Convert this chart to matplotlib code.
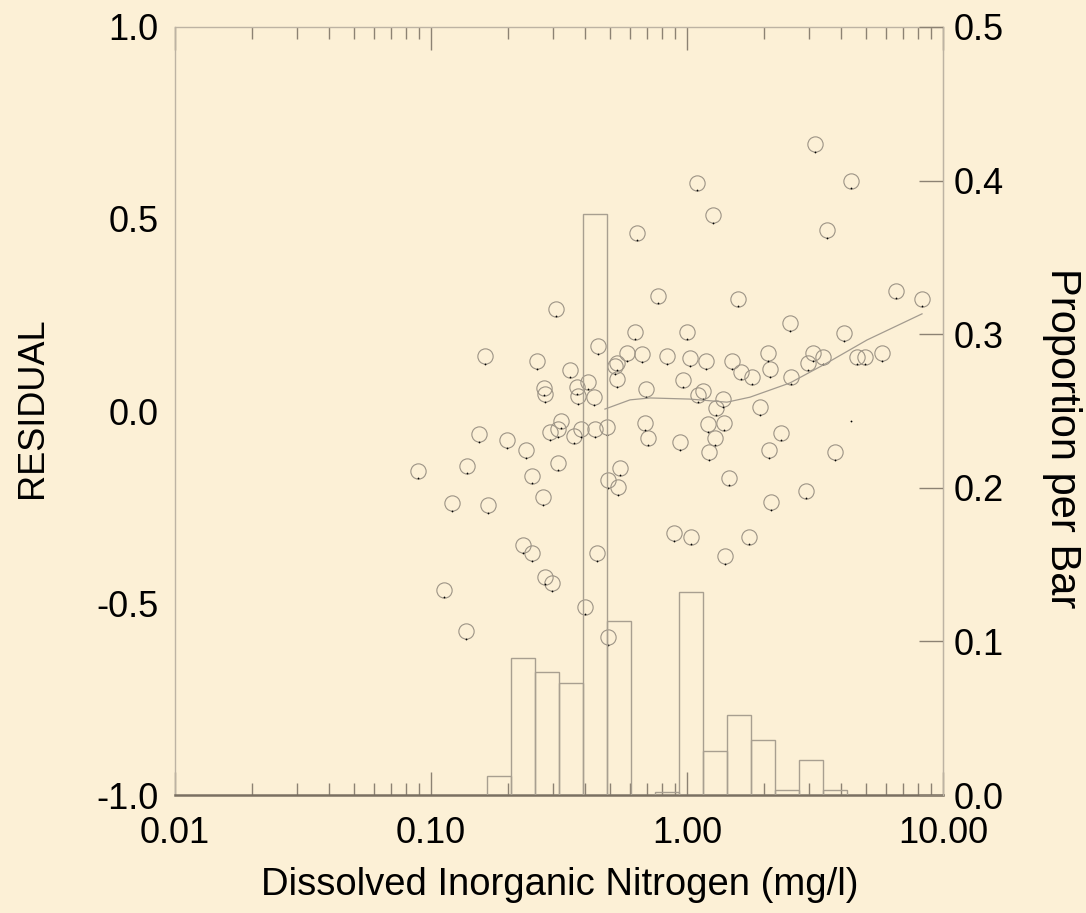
import matplotlib
matplotlib.use('Agg')
import matplotlib.pyplot as plt
import numpy as np
import matplotlib.transforms as mtransforms
from matplotlib.ticker import FixedLocator, FormatStrFormatter, NullFormatter, LogLocator

plt.rcParams['font.family'] = ['Liberation Sans', 'DejaVu Sans']

# scatter: dissolved inorganic nitrogen (mg/l) vs residual
din = [0.0889, 0.1124, 0.1208, 0.1370, 0.1382, 0.154, 0.1625, 0.167, 0.198, 0.2287,
       0.235, 0.248, 0.248, 0.2597, 0.274, 0.2788, 0.297, 0.2763, 0.2788, 0.2916,
       0.3078, 0.3134, 0.3134, 0.322, 0.349, 0.362, 0.3716, 0.375, 0.3855, 0.3996,
       0.4106, 0.4333, 0.437, 0.445, 0.449, 0.487, 0.491, 0.491, 0.5375, 0.547,
       0.523, 0.533, 0.533, 0.583, 0.626, 0.638, 0.667, 0.685, 0.6915, 0.704,
       0.770, 0.835, 0.890, 0.939, 0.9647, 1.0, 1.027, 1.0366, 1.094, 1.104,
       1.155, 1.186, 1.208, 1.219, 1.2636, 1.2866, 1.298, 1.382, 1.395, 1.407,
       1.459, 1.499, 1.582, 1.625, 1.747, 1.794, 1.928, 2.072, 2.091, 2.110,
       2.129, 2.329, 2.525, 2.548, 2.916, 2.969, 3.106, 3.162, 3.399, 3.524,
       3.785, 4.106, 4.372, 4.615, 4.959, 5.777, 6.553, 8.279]
resid = [-0.156, -0.466, -0.240, -0.573, -0.143, -0.060, 0.143, -0.245, -0.076, -0.349,
         -0.102, -0.370, -0.169, 0.130, -0.224, -0.432, -0.448, 0.060, 0.044, -0.055,
         0.266, -0.135, -0.047, -0.026, 0.107, -0.065, 0.063, 0.039, -0.047, -0.510,
         0.076, 0.036, -0.047, -0.370, 0.169, -0.042, -0.589, -0.180, -0.198, -0.148,
         0.117, 0.125, 0.083, 0.151, 0.206, 0.464, 0.148, -0.031, 0.057, -0.070,
         0.300, 0.143, -0.318, -0.081, 0.081, 0.206, 0.138, -0.328, 0.594, 0.042,
         0.052, 0.130, -0.034, -0.107, 0.510, -0.070, 0.008, 0.031, -0.031, -0.378,
         -0.174, 0.130, 0.292, 0.102, -0.328, 0.089, 0.010, 0.151, -0.102, 0.109,
         -0.237, -0.057, 0.229, 0.089, -0.208, 0.125, 0.151, 0.695, 0.141, 0.471,
         -0.107, 0.203, 0.599, 0.141, 0.141, 0.151, 0.313, 0.292]
lone_x = [4.372]
lone_y = [-0.026]

# smoother through the residuals
loess_x = [0.478, 0.599, 0.717, 1.027, 1.432, 1.762, 2.524, 3.52, 5.05, 8.28]
loess_y = [0.005, 0.029, 0.034, 0.031, 0.023, 0.036, 0.073, 0.125, 0.185, 0.253]

# histogram of DIN (proportion per bar)
bin_edges = [0.1655, 0.2054, 0.2548, 0.3162, 0.3924, 0.4870, 0.6043, 0.7499,
             0.9306, 1.1548, 1.4330, 1.7783, 2.2067, 2.7384, 3.3982, 4.2170]
bar_prop = [0.0124, 0.0895, 0.0800, 0.0726, 0.378, 0.1135, 0.0, 0.002,
            0.132, 0.0286, 0.0518, 0.0361, 0.0032, 0.0231, 0.0032]

bg = '#fcf0d6'
spine_light = '#bdb3a3'
tick_c = '#8c8273'

fig = plt.figure(figsize=(10.86, 9.13), dpi=100)
fig.patch.set_facecolor(bg)
ax = fig.add_axes([175 / 1086, 118 / 913, 768 / 1086, 768 / 913])
ax.set_facecolor(bg)
ax.set_xscale('log')
ax.set_xlim(0.01, 10)
ax.set_ylim(-1, 1)

ax2 = ax.twinx()
ax2.set_ylim(0, 0.5)

edges = np.array(bin_edges)
ax2.bar(edges[:-1], bar_prop, width=np.diff(edges), align='edge',
        fill=False, edgecolor='#a89f90', linewidth=1.0)

ax.plot(din, resid, 'o', mfc='none', mec='#9c9385', ms=11, mew=0.8)
dot_tr = mtransforms.offset_copy(ax.transData, fig=fig, x=0, y=-7.5, units='dots')
ax.plot(din, resid, 'o', color='k', ms=1.3, mew=0, transform=dot_tr)
ax.plot(lone_x, lone_y, 'o', color='k', ms=1.3, mew=0)
ax.plot(loess_x, loess_y, color='#a39b8f', lw=0.9)

# spines
for s in ['left', 'top', 'right']:
    ax.spines[s].set_color(spine_light)
    ax.spines[s].set_linewidth(1)
ax.spines['bottom'].set_color('#7a7062')
ax.spines['bottom'].set_linewidth(1.8)
for s in ['left', 'top', 'bottom']:
    ax2.spines[s].set_visible(False)
ax2.spines['right'].set_color(spine_light)

# x axis
ax.xaxis.set_major_locator(FixedLocator([0.01, 0.1, 1, 10]))
ax.xaxis.set_major_formatter(FormatStrFormatter('%.2f'))
ax.xaxis.set_minor_locator(LogLocator(base=10, subs=np.arange(2, 10)))
ax.xaxis.set_minor_formatter(NullFormatter())
ax.tick_params(axis='x', which='major', direction='in', top=True, length=16.5,
               width=1, color=tick_c, labelsize=26, pad=15)
ax.tick_params(axis='x', which='minor', direction='in', top=True, length=8.5,
               width=1, color=tick_c)

# left y axis
ax.yaxis.set_major_locator(FixedLocator([-1, -0.5, 0, 0.5, 1]))
ax.yaxis.set_major_formatter(FormatStrFormatter('%.1f'))
ax.tick_params(axis='y', which='both', length=0, labelsize=26, pad=12)

# right y axis
ax2.yaxis.set_major_locator(FixedLocator([0, 0.1, 0.2, 0.3, 0.4, 0.5]))
ax2.yaxis.set_major_formatter(FormatStrFormatter('%.1f'))
ax2.tick_params(axis='y', which='major', direction='in', length=17, width=1,
                color=tick_c, labelsize=26, pad=8)

fig.text(33 / 1086, 1 - 408 / 913, 'RESIDUAL', rotation=90, ha='center',
         va='center', fontsize=26)
fig.text(1062 / 1086, 1 - 438 / 913, 'Proportion per Bar', rotation=-90,
         ha='center', va='center', fontsize=30)
fig.text(560 / 1086, 1 - 885 / 913, 'Dissolved Inorganic Nitrogen (mg/l)',
         ha='center', va='center', fontsize=27.5)

fig.savefig('out.png', dpi=100, facecolor=bg)
